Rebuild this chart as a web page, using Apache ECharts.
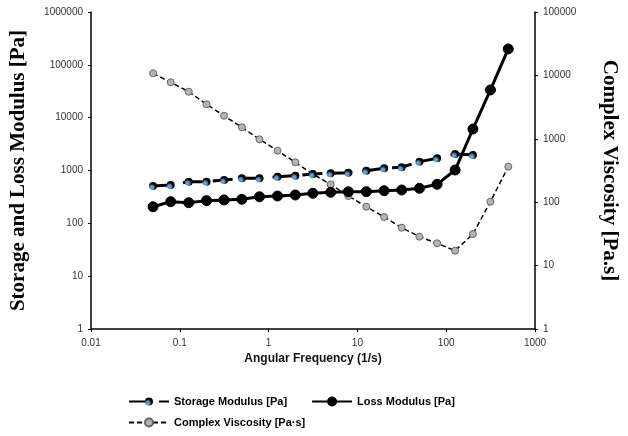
<!DOCTYPE html>
<html>
<head>
<meta charset="utf-8">
<script src="https://cdn.jsdelivr.net/npm/echarts@6/dist/echarts.min.js"></script>
<style>
  html, body { margin: 0; padding: 0; background: #fff; }
  #chart { width: 628px; height: 436px; }
</style>
</head>
<body>
<div id="chart"></div>
<script>
  // angular frequency (1/s)
  const freq = [0.05, 0.079, 0.126, 0.2, 0.315, 0.5, 0.79, 1.26, 2, 3.15, 5, 7.9, 12.6, 20, 31.5, 50, 79, 126, 200, 315, 500];
  // storage modulus G' [Pa] (ends at 200 1/s)
  const storage = [509, 532, 614, 614, 661, 712, 712, 764, 798, 859, 885, 910, 993, 1102, 1150, 1468, 1703, 2056, 1966];
  // loss modulus G'' [Pa]
  const loss = [206, 257, 246, 269, 277, 285, 318, 329, 344, 370, 387, 397, 397, 415, 428, 460, 548, 1020, 6100, 33500, 200000];
  // complex viscosity [Pa.s]
  const viscosity = [10790, 7780, 5530, 3500, 2313, 1518, 982, 649, 426, 278, 191, 125, 85, 58.5, 39.6, 28.6, 22.5, 17.2, 31.5, 102, 363];

  const pair = (ys) => ys.map((v, i) => [freq[i], v]);
  const fmt = (v) => String(+v.toPrecision(6));

  const chart = echarts.init(document.getElementById('chart'));

  const axisLine = { show: true, lineStyle: { color: '#000', width: 1.5 } };
  const tickLabel = { color: '#333', fontFamily: 'Liberation Sans, Arial', fontSize: 10, formatter: fmt };
  const legendText = { fontFamily: 'Liberation Sans, Arial', fontWeight: 'bold', fontSize: 11, color: '#000' };

  // blue highlight on dark marker, like the original storage points
  const storageFill = {
    type: 'radial', x: 0.35, y: 0.7, r: 0.6,
    colorStops: [{ offset: 0, color: '#7fb0e6' }, { offset: 0.45, color: '#4d7fb8' }, { offset: 0.75, color: '#0a0a0a' }, { offset: 1, color: '#000' }]
  };

  const option = {
    backgroundColor: '#fff',
    animation: false,
    grid: { left: 91, right: 91, top: 12, bottom: 107, containLabel: false },
    legend: [{
      data: ['Storage Modulus [Pa]', 'Loss Modulus [Pa]'],
      left: 123, top: 391,
      itemWidth: 40, itemHeight: 10, itemGap: 24,
      textStyle: legendText
    }, {
      data: ['Complex Viscosity [Pa·s]'],
      left: 123, top: 412,
      itemWidth: 40, itemHeight: 10,
      textStyle: legendText
    }],
    xAxis: {
      type: 'log', logBase: 10, min: 0.01, max: 1000, splitNumber: 5,
      name: 'Angular Frequency (1/s)', nameLocation: 'middle', nameGap: 22,
      nameTextStyle: { fontFamily: 'Liberation Sans, Arial', fontWeight: 'bold', fontSize: 12, color: '#111' },
      axisLine: axisLine,
      axisTick: { show: true, length: 3, lineStyle: { color: '#000' } },
      minorTick: { show: false },
      splitLine: { show: false },
      axisLabel: Object.assign({ margin: 9 }, tickLabel)
    },
    yAxis: [{
      type: 'log', logBase: 10, min: 1, max: 1000000, splitNumber: 6,
      position: 'left',
      name: 'Storage and Loss Modulus [Pa]', nameLocation: 'middle', nameGap: 62, nameRotate: 90,
      nameTextStyle: { fontFamily: 'Liberation Serif, Times New Roman', fontWeight: 'bold', fontSize: 21, color: '#000' },
      axisLine: axisLine,
      axisTick: { show: true, length: 3, lineStyle: { color: '#000' } },
      splitLine: { show: false },
      axisLabel: Object.assign({ margin: 8 }, tickLabel)
    }, {
      type: 'log', logBase: 10, min: 1, max: 100000, splitNumber: 5,
      position: 'right',
      name: 'Complex Viscosity [Pa.s]', nameLocation: 'middle', nameGap: 64, nameRotate: -90,
      nameTextStyle: { fontFamily: 'Liberation Serif, Times New Roman', fontWeight: 'bold', fontSize: 21, color: '#000' },
      axisLine: axisLine,
      axisTick: { show: true, length: 3, lineStyle: { color: '#000' } },
      splitLine: { show: false },
      axisLabel: Object.assign({ margin: 8 }, tickLabel)
    }],
    series: [{
      name: 'Storage Modulus [Pa]',
      type: 'line', yAxisIndex: 0,
      data: pair(storage),
      symbol: 'circle', symbolSize: 8,
      lineStyle: { color: '#000', width: 3, type: [20, 10] },
      itemStyle: { color: storageFill, borderWidth: 0 },
      z: 3
    }, {
      name: 'Loss Modulus [Pa]',
      type: 'line', yAxisIndex: 0,
      data: pair(loss),
      symbol: 'circle', symbolSize: 10,
      lineStyle: { color: '#000', width: 3 },
      itemStyle: { color: '#000', borderColor: '#000', borderWidth: 1 },
      z: 4
    }, {
      name: 'Complex Viscosity [Pa·s]',
      type: 'line', yAxisIndex: 1,
      data: pair(viscosity),
      symbol: 'circle', symbolSize: 7,
      lineStyle: { color: '#000', width: 1.5, type: [5, 3] },
      itemStyle: { color: '#b4b4b4', borderColor: '#666', borderWidth: 1 },
      z: 2
    }]
  };

  chart.setOption(option);
</script>
</body>
</html>
